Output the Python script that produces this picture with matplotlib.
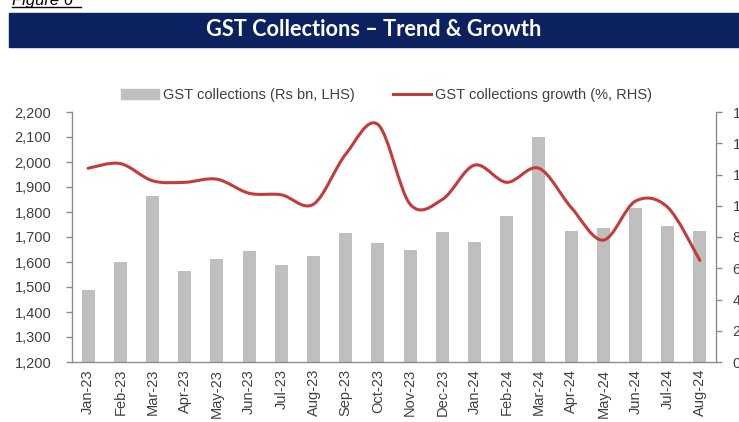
import numpy as np
import matplotlib
matplotlib.use("Agg")
import matplotlib.pyplot as plt
from matplotlib.path import Path
from matplotlib.patches import PathPatch, Rectangle
from matplotlib.lines import Line2D
from matplotlib.ticker import FuncFormatter

plt.rcParams["font.family"] = ["Liberation Sans", "DejaVu Sans"]

months = ["Jan-23", "Feb-23", "Mar-23", "Apr-23", "May-23", "Jun-23", "Jul-23",
          "Aug-23", "Sep-23", "Oct-23", "Nov-23", "Dec-23", "Jan-24", "Feb-24",
          "Mar-24", "Apr-24", "May-24", "Jun-24", "Jul-24", "Aug-24"]
collections = [1490, 1600, 1865, 1565, 1612, 1646, 1588, 1624, 1715, 1675,
               1647, 1719, 1680, 1783, 2100, 1726, 1738, 1817, 1743, 1726]
growth = [12.4, 12.7, 11.6, 11.5, 11.7, 10.8, 10.7, 10.1, 13.3, 15.2,
          10.1, 10.4, 12.6, 11.5, 12.4, 9.9, 7.8, 10.3, 9.9, 6.5]

bar_color = "#BFBFBF"
line_color = "#C43B3B"
text_color = "#404040"
spine_color = "#8C8C8C"

fig = plt.figure(figsize=(7.39, 4.22), dpi=100)

# header banner
fig.patches.append(Rectangle((9 / 739, 1 - 47 / 422), 1 - 9 / 739, 34 / 422,
                             transform=fig.transFigure, color="#0B2160", zorder=0))
fig.text(0.506, 1 - 30 / 422, "GST Collections \u2013 Trend & Growth",
         ha="center", va="center", color="white", fontsize=15.7,
         fontweight="bold", family=["Lato", "DejaVu Sans"])
fig.text(12 / 739, 1 - 5 / 422, "Figure 6", ha="left", va="baseline",
         fontsize=12, style="italic", color="black")
fig.add_artist(Line2D([12 / 739, 81 / 739], [1 - 7 / 422, 1 - 7 / 422],
                      transform=fig.transFigure, color="black", lw=1))

ax = fig.add_axes([72 / 739, 1 - 362 / 422, 644 / 739, 250 / 422])
ax2 = ax.twinx()

x = np.arange(len(months))
ax.bar(x, collections, width=0.4, color=bar_color, zorder=2)
ax.set_ylim(1200, 2200)
ax.set_yticks(np.arange(1200, 2201, 100))
ax.yaxis.set_major_formatter(FuncFormatter(lambda v, p: f"{int(v):,}"))
ax.set_xlim(-0.5, len(months) - 0.5)
ax.set_xticks(x)
ax.set_xticklabels(months, rotation=90)

# smoothed growth line (Bezier through the monthly points)
pts = np.column_stack([x, growth]).astype(float)
n = len(pts)
verts = [pts[0]]
codes = [Path.MOVETO]
for i in range(n - 1):
    p0 = pts[max(i - 1, 0)]
    p1 = pts[i]
    p2 = pts[i + 1]
    p3 = pts[min(i + 2, n - 1)]
    verts += [p1 + (p2 - p0) / 6, p2 - (p3 - p1) / 6, p2]
    codes += [Path.CURVE4] * 3
ax2.add_patch(PathPatch(Path(verts, codes), fill=False, edgecolor=line_color,
                        lw=2.2, capstyle="round", zorder=3))
ax2.set_ylim(0, 16)
ax2.set_yticks(np.arange(0, 17, 2))

for a in (ax, ax2):
    a.spines["top"].set_visible(False)
    for s in ("left", "right", "bottom"):
        a.spines[s].set_color(spine_color)
        a.spines[s].set_linewidth(1)
ax.spines["right"].set_visible(False)
ax2.spines["left"].set_visible(False)
ax2.spines["bottom"].set_visible(False)

ax.tick_params(axis="y", length=4, width=1, color=spine_color, pad=11,
               labelsize=10.5, labelcolor=text_color)
ax.tick_params(axis="x", length=0, pad=5, labelsize=10.5, labelcolor=text_color)
ax2.tick_params(axis="y", length=4, width=1, color=spine_color, pad=8,
                labelsize=10.5, labelcolor=text_color)

# legend
handles = [Rectangle((0, 0), 1, 1, color=bar_color),
           Line2D([], [], color=line_color, lw=2.2)]
fig.legend(handles, ["GST collections (Rs bn, LHS)", "GST collections growth (%, RHS)"],
           loc="center", bbox_to_anchor=(0.523, 1 - 95 / 422), ncol=2, frameon=False,
           fontsize=10.5, labelcolor=text_color, handlelength=2.6, handleheight=0.7,
           handletextpad=0.3, columnspacing=2.6)

fig.savefig("out.png", dpi=100)
